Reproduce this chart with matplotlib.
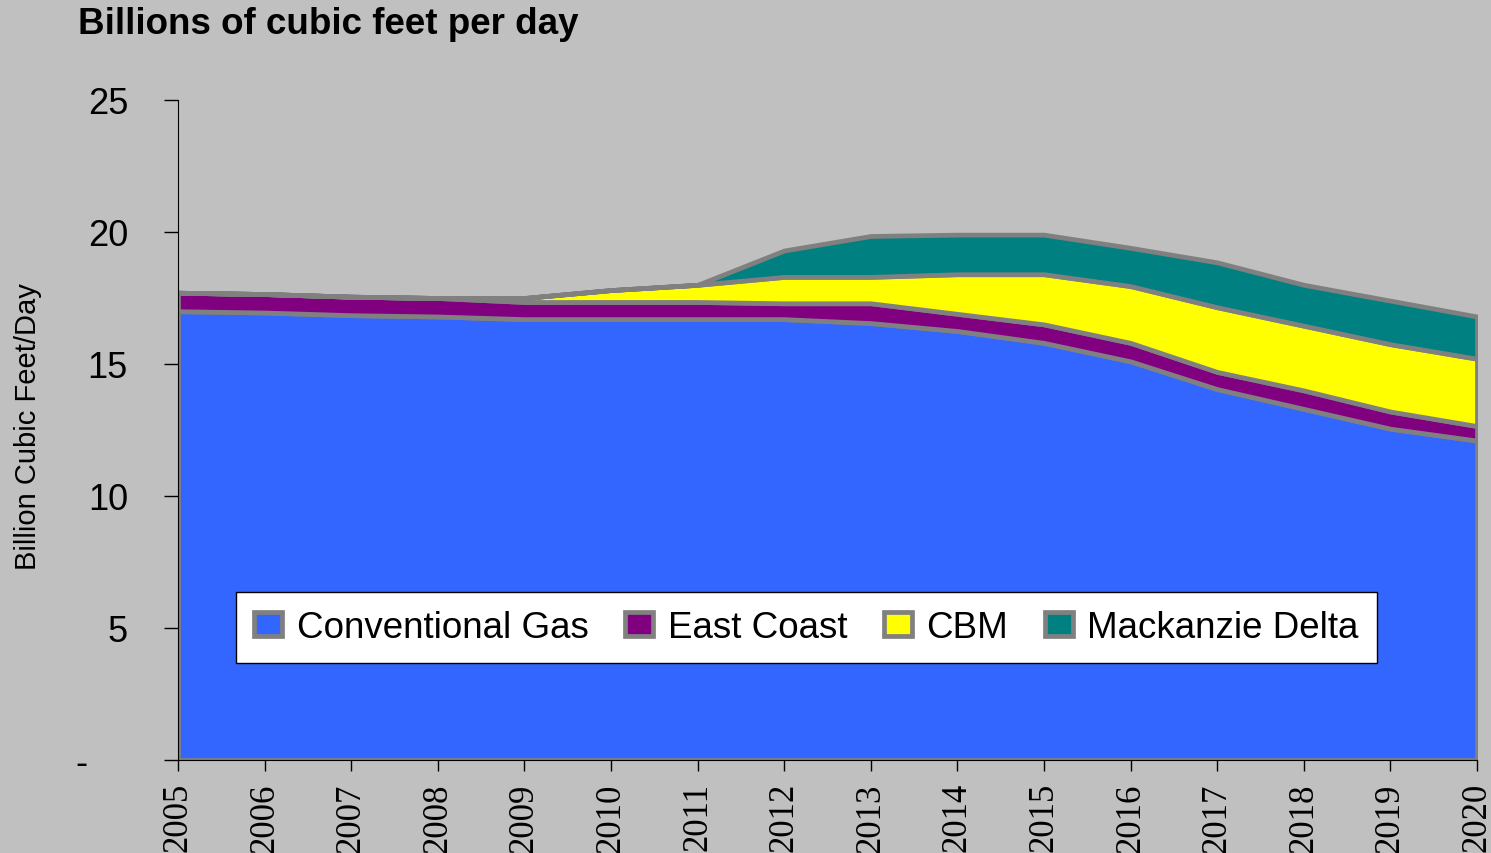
import matplotlib.pyplot as plt
import numpy as np

# %%
years = list(range(2005, 2021))
conventional = [17.0, 16.95, 16.85, 16.8, 16.7, 16.7, 16.7, 16.7, 16.55, 16.25, 15.8, 15.1, 14.05, 13.3, 12.55, 12.1]
east_coast = [0.7, 0.7, 0.7, 0.7, 0.65, 0.65, 0.65, 0.6, 0.75, 0.65, 0.7, 0.7, 0.65, 0.7, 0.65, 0.55]
cbm = [0.0, 0.0, 0.0, 0.0, 0.15, 0.45, 0.65, 1.0, 1.0, 1.5, 1.9, 2.15, 2.45, 2.45, 2.55, 2.55]
mackenzie = [0.0, 0.0, 0.0, 0.0, 0.0, 0.0, 0.0, 1.0, 1.55, 1.5, 1.5, 1.45, 1.7, 1.55, 1.65, 1.6]

series_names = ['Conventional Gas', 'East Coast', 'CBM', 'Mackanzie Delta']
series_colors = ['#3366FF', '#800080', '#FFFF00', '#008080']
y_ticks = [0, 5, 10, 15, 20, 25]
y_tick_labels = ['-    ', '5', '10', '15', '20', '25']

BG = '#C0C0C0'
EDGE = '#808080'

# %%
fig = plt.figure(figsize=(14.91, 8.54), dpi=100, facecolor=BG)
ax = fig.add_axes([178 / 1491, 1 - 761 / 854, (1477 - 178) / 1491, (761 - 101) / 854])
ax.set_facecolor(BG)

polys = ax.stackplot(years, conventional, east_coast, cbm, mackenzie,
                     colors=series_colors, labels=series_names)
for p in polys:
    p.set_edgecolor(EDGE)
    p.set_linewidth(3.4)

ax.set_xlim(2005, 2020)
ax.set_ylim(0, 25)
ax.set_xticks(years)
ax.set_xticklabels([str(y) for y in years], rotation=90, fontfamily='Liberation Serif', fontsize=25)
ax.set_yticks(y_ticks)
ax.set_yticklabels(y_tick_labels, fontfamily='Liberation Sans', fontsize=26)
ax.tick_params(axis='y', length=10, width=1, pad=26)
ax.tick_params(axis='x', length=8, width=1, pad=8)
ax.spines['top'].set_visible(False)
ax.spines['right'].set_visible(False)

fig.text(78 / 1491, 1 - 25 / 854, 'Billions of cubic feet per day', fontsize=26.5, fontweight='bold',
         fontfamily='Liberation Sans', ha='left', va='center')
fig.text(28 / 1491, 1 - 427 / 854, 'Billion Cubic Feet/Day', fontsize=21, fontfamily='Liberation Sans',
         rotation=90, ha='center', va='center')

leg = ax.legend(loc='center', bbox_to_anchor=((806.5 - 178) / 1299, (761 - 628.5) / 660),
                ncol=4, frameon=True, fancybox=False,
                prop={'family': 'Liberation Sans', 'size': 26.5},
                handlelength=0.75, handleheight=0.6, handletextpad=0.4, columnspacing=1.0,
                borderpad=0.5, borderaxespad=0)
leg.get_frame().set_edgecolor('black')
leg.get_frame().set_linewidth(1)
leg.get_frame().set_facecolor('white')
leg.get_frame().set_alpha(1)

fig.savefig('out.png', dpi=100, facecolor=BG)
